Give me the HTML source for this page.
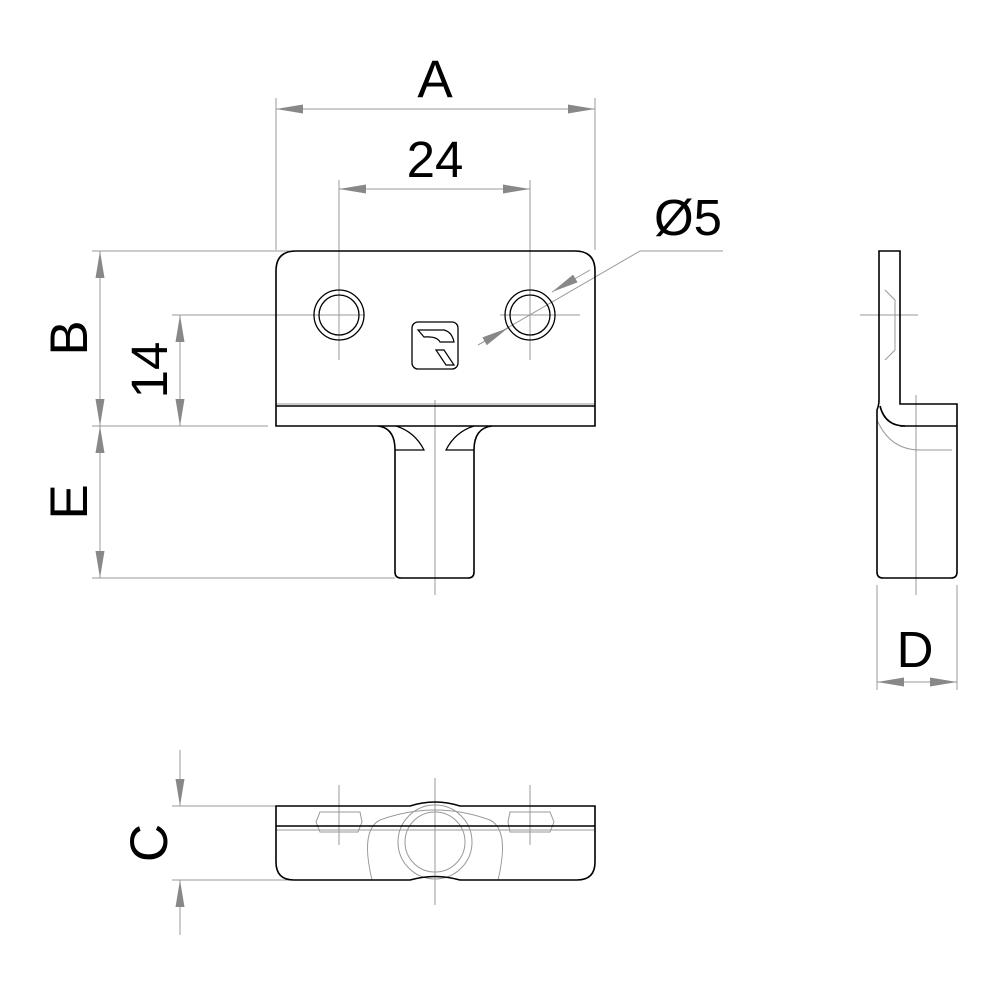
<!DOCTYPE html>
<html><head><style>body{margin:0;background:#fff}svg{display:block}text{font-family:"Liberation Sans",Arial,sans-serif;fill:#000}</style></head>
<body>
<svg width="1000" height="1000" viewBox="0 0 1000 1000" xmlns="http://www.w3.org/2000/svg">
<defs>
<marker id="ar" viewBox="0 0 27 9" refX="27" refY="4.5" markerWidth="27" markerHeight="9" markerUnits="userSpaceOnUse" orient="auto-start-reverse"><path d="M0,0L27,4.5L0,9Z" fill="#888"/></marker>
</defs>
<g stroke="#999" stroke-width="1" fill="none">
<line x1="276" y1="98" x2="276" y2="250"/>
<line x1="595" y1="98" x2="595" y2="250"/>
<line x1="339" y1="180" x2="339" y2="360"/>
<line x1="530" y1="180" x2="530" y2="360"/>
<line x1="92" y1="251" x2="290" y2="251"/>
<line x1="172" y1="315" x2="365" y2="315"/>
<line x1="92" y1="426" x2="268" y2="426"/>
<line x1="92" y1="578" x2="395" y2="578"/>
<line x1="500" y1="315" x2="580" y2="315"/>
<line x1="435" y1="400" x2="435" y2="595"/>
<line x1="276" y1="404" x2="595" y2="404"/>
<line x1="276" y1="109" x2="595" y2="109" marker-start="url(#ar)" marker-end="url(#ar)"/>
<line x1="339" y1="189" x2="530" y2="189" marker-start="url(#ar)" marker-end="url(#ar)"/>
<line x1="100" y1="251" x2="100" y2="426" marker-start="url(#ar)" marker-end="url(#ar)"/>
<line x1="180" y1="315" x2="180" y2="426" marker-start="url(#ar)" marker-end="url(#ar)"/>
<line x1="100" y1="426" x2="100" y2="578" marker-start="url(#ar)" marker-end="url(#ar)"/>
<polyline points="478,345 640,251 723,251"/>
<line x1="478" y1="345" x2="508" y2="328" marker-end="url(#ar)"/>
<line x1="590" y1="270" x2="552" y2="292" marker-end="url(#ar)"/>
<line x1="877" y1="585" x2="877" y2="690"/>
<line x1="957" y1="585" x2="957" y2="690"/>
<line x1="877" y1="682" x2="957" y2="682" marker-start="url(#ar)" marker-end="url(#ar)"/>
<line x1="860" y1="315" x2="918" y2="315"/>
<line x1="916" y1="395" x2="916" y2="595"/>
<line x1="172" y1="806" x2="290" y2="806"/>
<line x1="172" y1="880" x2="290" y2="880"/>
<line x1="180" y1="750" x2="180" y2="806" marker-end="url(#ar)"/>
<line x1="180" y1="935" x2="180" y2="880" marker-end="url(#ar)"/>
<line x1="435" y1="778" x2="435" y2="905"/>
<line x1="339" y1="785" x2="339" y2="845"/>
<line x1="530" y1="785" x2="530" y2="845"/>
<line x1="276" y1="830" x2="595" y2="830"/>
<circle cx="435" cy="842" r="37"/>
<circle cx="435" cy="842" r="30"/>
<path d="M372,880 Q360,830 380,820 Q435,800 490,820 Q510,830 498,880"/>
<path d="M320,812 L360,812 L362,822 L358,832 L320,832 L316,822Z"/>
<path d="M510,812 L550,812 L554,822 L550,832 L510,832 L508,822Z"/>
<path d="M885,290 L895,300 L895,350 L885,360 M877,420 Q890,450 920,450 L952,450"/>
</g>
<g stroke="#000" stroke-width="1.6" fill="none">
<path d="M276,426 L276,271 Q276,251 296,251 L575,251 Q595,251 595,271 L595,426 Z"/>
<line x1="276" y1="406" x2="595" y2="406"/>
<path d="M378,426 Q395,428 395,450 L395,572 Q395,578 401,578 L468,578 Q474,578 474,572 L474,450 Q474,428 492,426"/>
<path d="M395,450 L424,450 Q415,432 396,426 M474,450 L446,450 Q455,432 474,426" stroke-width="1.2"/>
<circle cx="339" cy="315" r="25" stroke-width="1.3"/><circle cx="339" cy="315" r="20" stroke-width="1.3"/>
<circle cx="530" cy="315" r="25" stroke-width="1.3"/><circle cx="530" cy="315" r="20" stroke-width="1.3"/>
<rect x="412" y="322" width="46" height="47" rx="6" stroke-width="1.3"/>
<path d="M418,330 L444,330 Q452,332 454,342 L440,342 Q437,336 424,337 Z" stroke-width="1.2"/>
<path d="M436,350 L444,350 L454,365 L446,365 Z" stroke-width="1.2"/>
<path d="M879,251 L900,251 L900,404 L957,404 L957,572 Q957,578 951,578 L883,578 Q877,578 877,572 L877,410 Q879,405 879,400 Z"/>
<line x1="900" y1="426" x2="957" y2="426"/>
<path d="M880,406 Q885,426 905,426" />
<path d="M276,806 L410,806 Q435,798 460,806 L595,806 L595,862 Q595,880 577,880 L460,880 Q435,873 410,880 L294,880 Q276,880 276,862 Z"/>
<line x1="276" y1="826" x2="595" y2="826"/>
</g>
<text x="435" y="97" font-size="53" text-anchor="middle">A</text>
<text x="435" y="177" font-size="51" text-anchor="middle">24</text>
<text x="688" y="235" font-size="51" text-anchor="middle">Ø5</text>
<text x="915" y="667" font-size="51" text-anchor="middle">D</text>
<text transform="translate(87,338) rotate(-90)" font-size="53" text-anchor="middle">B</text>
<text transform="translate(167,370) rotate(-90)" font-size="51" text-anchor="middle">14</text>
<text transform="translate(87,502) rotate(-90)" font-size="53" text-anchor="middle">E</text>
<text transform="translate(167,843) rotate(-90)" font-size="53" text-anchor="middle">C</text>
</svg>
</body></html>
